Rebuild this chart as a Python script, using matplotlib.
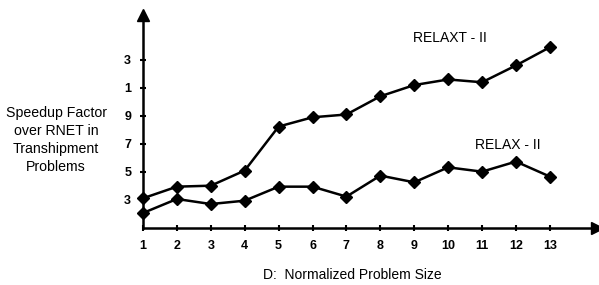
import matplotlib
matplotlib.use("Agg")
import matplotlib.pyplot as plt

plt.rcParams['font.family'] = ['Liberation Sans', 'DejaVu Sans']

sizes = list(range(1, 14))
relaxt_ii = [3.12, 3.95, 4.02, 5.1, 8.24, 8.9, 9.1, 10.4, 11.2, 11.6, 11.4, 12.6, 13.9]
relax_ii = [2.07, 3.07, 2.71, 2.95, 3.95, 3.95, 3.24, 4.74, 4.26, 5.33, 5.02, 5.74, 4.67]
ytick_vals = [3, 5, 7, 9, 11, 13]
ytick_labels = ["3", "5", "7", "9", "1", "3"]

fig = plt.figure(figsize=(5.99, 2.85), dpi=100)
ax = fig.add_axes([143/599, 1 - 228/285, 454/599, 213/285])
ax.set_xlim(1, 14.39)
ax.set_ylim(1, 16.2)

for s in ['top', 'right']:
    ax.spines[s].set_visible(False)
for s in ['left', 'bottom']:
    ax.spines[s].set_linewidth(1.8)
    ax.spines[s].set_color('black')

ax.plot(1, 0, '>', color='black', markersize=8, transform=ax.transAxes, clip_on=False)
ax.plot(0, 1, '^', color='black', markersize=8, transform=ax.transAxes, clip_on=False)

line_kw = dict(color='black', linewidth=1.8, marker='D', markersize=6.5, clip_on=False)
ax.plot(sizes, relaxt_ii, **line_kw)
ax.plot(sizes, relax_ii, **line_kw)

ax.set_xticks(sizes)
ax.set_xticklabels([str(s) for s in sizes], fontweight='bold', fontsize=9)
ax.set_yticks(ytick_vals)
ax.set_yticklabels(ytick_labels, fontweight='bold', fontsize=9)
ax.tick_params(axis='both', direction='inout', length=5, width=1.5, pad=6)

ax.text(450, 285 - 38, "RELAXT - II", transform=None, ha='center', va='center', fontsize=10)
ax.text(508, 285 - 145, "RELAX - II", transform=None, ha='center', va='center', fontsize=10)

fig.text(56/599, 1 - 140/285, "Speedup Factor\nover RNET in\nTranshipment\nProblems",
         ha='center', va='center', fontsize=10.2, linespacing=1.38)
fig.text(352/599, 1 - 275/285, "D:  Normalized Problem Size", ha='center', va='center', fontsize=10)

fig.savefig("out.png", dpi=100)
